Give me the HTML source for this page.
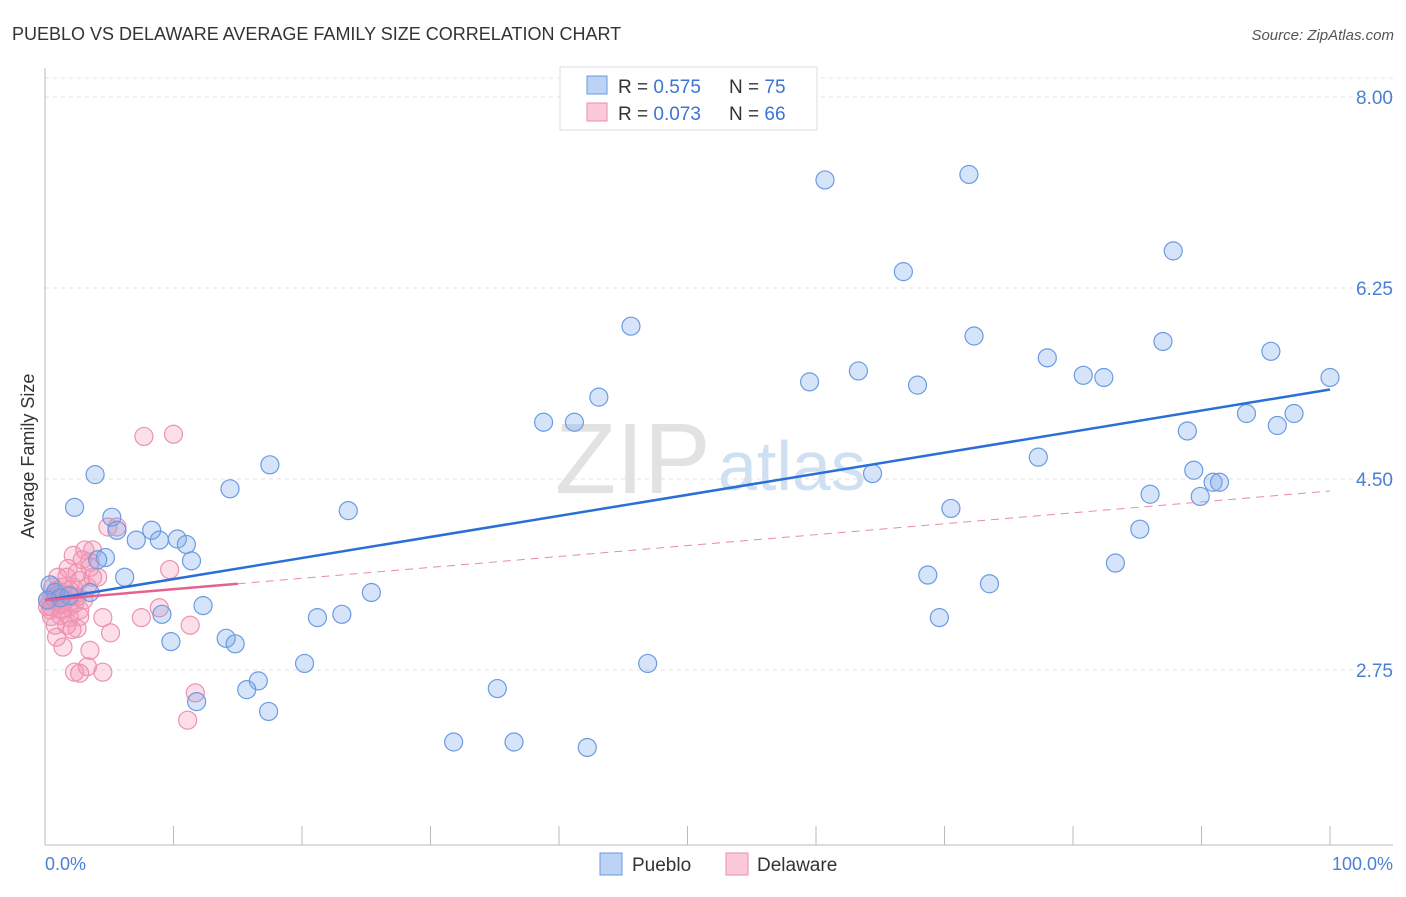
<!DOCTYPE html>
<html><head><meta charset="utf-8"><style>
body{margin:0;background:#fff;font-family:"Liberation Sans",sans-serif}
svg text{font-family:"Liberation Sans",sans-serif}
</style></head><body>
<svg id="chart" width="1406" height="892" xmlns="http://www.w3.org/2000/svg">
<text x="12" y="40" font-size="18" fill="#333">PUEBLO VS DELAWARE AVERAGE FAMILY SIZE CORRELATION CHART</text>
<text x="1394" y="40" font-size="15" fill="#555" font-style="italic" text-anchor="end">Source: ZipAtlas.com</text>
<g>
<text x="555" y="493" font-size="100" font-family="Liberation Serif" fill="#e2e2e2">ZIP</text>
<text x="718" y="490" font-size="70" fill="#cfe0f3">atlas</text>
</g>
<g id="grid"></g>
<g id="axes"></g>
<g id="pts"></g>
<g id="trends"></g>
<text x="34" y="456" font-size="18" fill="#333" text-anchor="middle" transform="rotate(-90 34 456)">Average Family Size</text>
<text x="45" y="870" font-size="18" fill="#4a7fd4">0.0%</text>
<text x="1393" y="870" font-size="18" fill="#4a7fd4" text-anchor="end">100.0%</text>
<g>
<rect x="560" y="67" width="257" height="63" fill="#fff" stroke="#ddd"/>
<rect x="587" y="76" width="20" height="18" fill="#bcd3f5" stroke="#6a9ae0"/>
<rect x="587" y="103" width="20" height="18" fill="#fbc9d8" stroke="#ea8fac"/>
<text x="618" y="93" font-size="19" fill="#333">R = <tspan fill="#3b74d4">0.575</tspan></text>
<text x="729" y="93" font-size="19" fill="#333">N = <tspan fill="#3b74d4">75</tspan></text>
<text x="618" y="120" font-size="19" fill="#333">R = <tspan fill="#3b74d4">0.073</tspan></text>
<text x="729" y="120" font-size="19" fill="#333">N = <tspan fill="#3b74d4">66</tspan></text>
</g>
<g>
<rect x="600" y="853" width="22" height="22" fill="#bcd3f5" stroke="#6a9ae0"/>
<text x="632" y="871" font-size="19" fill="#333">Pueblo</text>
<rect x="726" y="853" width="22" height="22" fill="#fbc9d8" stroke="#ea8fac"/>
<text x="757" y="871" font-size="19" fill="#333">Delaware</text>
</g>
</svg>
<script>
const yTicks=[8.00,6.25,4.50,2.75];
const yTickLabels=["8.00","6.25","4.50","2.75"];
const xTicks=[0,10,20,30,40,50,60,70,80,90,100];
const puebloX=[60.7,71.9,87.8,66.8,45.6,72.3,87.0,78.0,95.4,59.5,63.3,67.9,80.8,82.4,100,43.1,38.8,41.2,93.5,97.2,88.9,95.9,64.4,77.3,89.4,90.9,91.4,86.0,89.9,70.5,85.2,83.3,68.7,73.5,69.6,3.9,17.5,14.4,2.3,5.2,5.6,8.3,7.1,8.9,10.3,11.0,4.7,4.1,11.4,6.2,23.6,25.4,23.1,21.2,12.3,9.1,14.1,14.8,9.8,3.5,20.2,46.9,16.6,15.7,35.2,11.8,17.4,31.8,36.5,42.2,0.4,0.8,1.2,0.2,1.9];
const puebloY=[7.24,7.29,6.59,6.40,5.90,5.81,5.76,5.61,5.67,5.39,5.49,5.36,5.45,5.43,5.43,5.25,5.02,5.02,5.10,5.10,4.94,4.99,4.55,4.70,4.58,4.47,4.47,4.36,4.34,4.23,4.04,3.73,3.62,3.54,3.23,4.54,4.63,4.41,4.24,4.15,4.03,4.03,3.94,3.94,3.95,3.90,3.78,3.76,3.75,3.60,4.21,3.46,3.26,3.23,3.34,3.26,3.04,2.99,3.01,3.46,2.81,2.81,2.65,2.57,2.58,2.46,2.37,2.09,2.09,2.04,3.53,3.46,3.41,3.39,3.43];
const delawareX=[4.9,5.6,2.2,3.1,3.7,2.9,3.5,1.8,4.1,1.0,2.7,2.2,1.4,3.3,0.8,2.5,0.4,1.2,1.9,0.4,2.7,1.2,1.9,0.8,1.7,2.5,4.5,5.1,0.9,1.4,3.5,2.3,3.3,4.5,9.7,7.5,8.9,11.3,11.7,11.1,0.2,0.6,0.9,1.6,1.3,2.1,2.3,3.0,2.7,2.1,0.5,0.6,3.5,3.7,2.5,1.7,0.2,0.5,0.8,1.3,7.7,10.0,2.7,1.3,1.0,1.9];
const delawareY=[4.06,4.06,3.80,3.85,3.85,3.76,3.74,3.68,3.60,3.60,3.57,3.51,3.51,3.51,3.46,3.42,3.39,3.36,3.33,3.30,3.30,3.25,3.23,3.16,3.16,3.13,3.23,3.09,3.05,2.96,2.93,2.73,2.78,2.73,3.67,3.23,3.32,3.16,2.54,2.29,3.33,3.42,3.48,3.39,3.30,3.42,3.36,3.39,3.24,3.12,3.24,3.51,3.69,3.60,3.64,3.60,3.39,3.33,3.39,3.42,4.89,4.91,2.72,3.35,3.44,3.48];
const puebloTrend=[3.39,5.32];
const delawareTrend=[3.39,4.39];
const delawareSolidEnd=15;
const NS="http://www.w3.org/2000/svg";
const X0=45,X1=1330,Y8=97,PXU=109.14;
function xs(p){return X0+(X1-X0)*p/100;}
function ys(v){return Y8+(8-v)*PXU;}
function mk(t,a,parent){const e=document.createElementNS(NS,t);for(const k in a)e.setAttribute(k,a[k]);parent.appendChild(e);return e;}
const gridG=document.getElementById('grid'),axesG=document.getElementById('axes'),trendsG=document.getElementById('trends'),ptsG=document.getElementById('pts');
const topLine=mk('line',{x1:45,x2:1393,y1:78,y2:78,stroke:'#e4e4e4','stroke-dasharray':'4 4'},gridG);


yTicks.forEach((v,i)=>{
 const l=mk('line',{x1:45,x2:1393,y1:ys(v),y2:ys(v),stroke:'#e0e0e0','stroke-dasharray':'4 4'},gridG);
 
 
 const t=mk('text',{x:1393,y:ys(v)+7,'font-size':19,fill:'#4a7fd4','text-anchor':'end'},gridG);
 t.textContent=yTickLabels[i];
 
 
});
mk('line',{x1:45,x2:45,y1:68,y2:845,stroke:'#bbb'},axesG);
mk('line',{x1:45,x2:1393,y1:845,y2:845,stroke:'#bbb'},axesG);
xTicks.forEach(p=>{
 const l=mk('line',{x1:xs(p),x2:xs(p),y1:826,y2:845,stroke:'#bbb'},axesG);
 
 
});
function dots(X,Y,fill,stroke,name){
 X.forEach((x,i)=>{
  const c=mk('circle',{cx:xs(x),cy:ys(Y[i]),r:9,fill:fill,stroke:stroke,'stroke-width':1.2},ptsG);
  
  
 });
}
dots(delawareX,delawareY,'rgba(244,150,180,0.3)','#eb93b0','delaware-point');
dots(puebloX,puebloY,'rgba(120,165,235,0.3)','#6b9be0','pueblo-point');
const bt=mk('line',{x1:xs(0),x2:xs(100),y1:ys(puebloTrend[0]),y2:ys(puebloTrend[1]),stroke:'#2a6fd6','stroke-width':2.5},trendsG);


const dv=v=>delawareTrend[0]+(delawareTrend[1]-delawareTrend[0])*v/100;
const pd=mk('line',{x1:xs(delawareSolidEnd),x2:xs(100),y1:ys(dv(delawareSolidEnd)),y2:ys(dv(100)),stroke:'#e88aa8','stroke-width':1,'stroke-dasharray':'8 6'},trendsG);


const ps=mk('line',{x1:xs(0),x2:xs(delawareSolidEnd),y1:ys(dv(0)),y2:ys(dv(delawareSolidEnd)),stroke:'#e8608e','stroke-width':2.5},trendsG);


</script>
</body></html>
